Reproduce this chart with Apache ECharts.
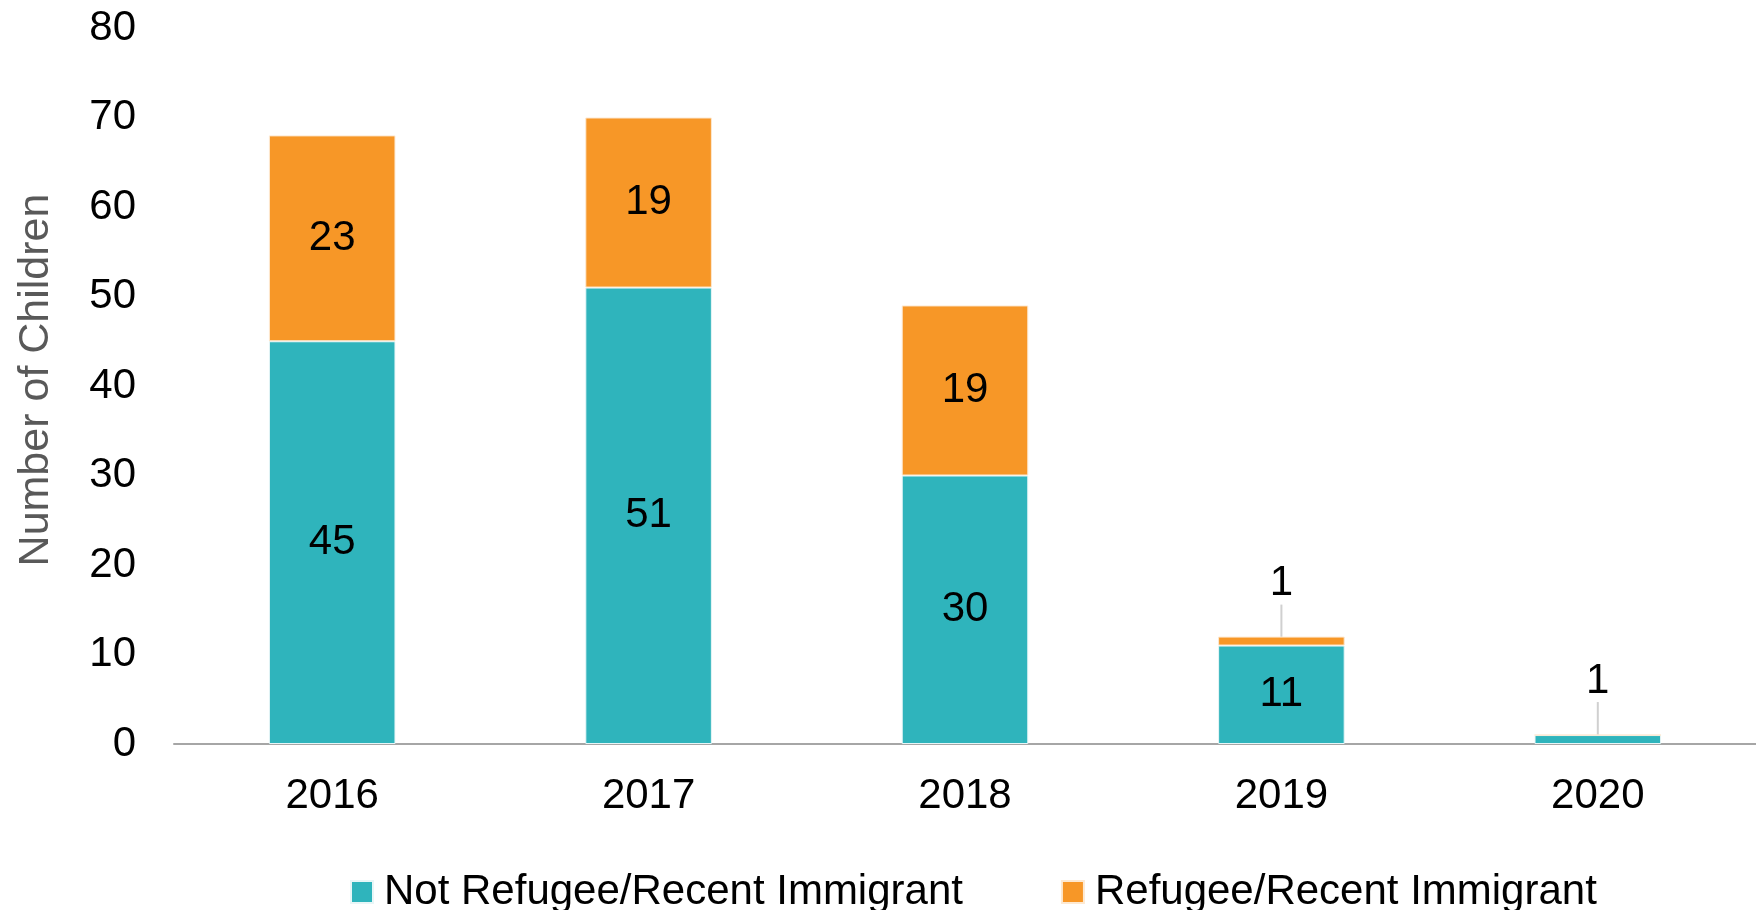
<!DOCTYPE html>
<html>
<head>
<meta charset="utf-8">
<script src="https://cdn.jsdelivr.net/npm/echarts@6/dist/echarts.min.js"></script>
<style>html,body{margin:0;padding:0;background:#fff}#c{width:1756px;height:910px}</style>
</head>
<body>
<div id="c"></div>
<script>
var years = ['2016', '2017', '2018', '2019', '2020'];
var notRefugee = [45, 51, 30, 11, 1];
var refugee = [23, 19, 19, 1, 0];
var yTicks = [0, 80, 10];
var seriesNames = ['Not Refugee/Recent Immigrant', 'Refugee/Recent Immigrant'];

var FONT = '"Liberation Sans", Arial, sans-serif';
var FS = 42;
var chart = echarts.init(document.getElementById('c'));

chart.setOption({
  animation: false,
  textStyle: { fontFamily: FONT },
  grid: { left: 174, right: -5, top: 28, bottom: 166, containLabel: false },
  legend: {
    data: seriesNames,
    left: 345,
    top: 866,
    itemWidth: 22,
    itemHeight: 22,
    itemGap: 98,
    icon: 'rect',
    textStyle: { fontSize: FS, color: '#000', fontFamily: FONT, padding: [0, 0, 0, 6] }
  },
  xAxis: {
    type: 'category',
    data: years,
    axisLine: { lineStyle: { color: '#a6a6a6', width: 2 } },
    axisTick: { show: false },
    axisLabel: { fontSize: FS, color: '#000', margin: 31, fontFamily: FONT }
  },
  yAxis: {
    type: 'value',
    min: yTicks[0], max: yTicks[1], interval: yTicks[2],
    name: 'Number of Children',
    nameLocation: 'middle',
    nameGap: 116,
    nameRotate: 90,
    nameTextStyle: { fontSize: 43, color: '#595959', fontFamily: FONT, padding: [0, 0, 0, 12] },
    axisLine: { show: false },
    axisTick: { show: false },
    splitLine: { show: false },
    axisLabel: { fontSize: FS, color: '#000', margin: 38, fontFamily: FONT }
  },
  series: [
    {
      name: seriesNames[0],
      type: 'bar',
      stack: 'total',
      barWidth: '40%',
      itemStyle: { color: '#2FB4BC', borderColor: '#e8f6f7', borderWidth: 1 },
      data: notRefugee.map(function (v, i) {
        return refugee[i] === 0 && v <= 1
          ? { value: v, label: { position: 'top', distance: 5 } }
          : v;
      }),
      label: { show: true, position: 'inside', fontSize: FS, color: '#000', fontFamily: FONT },
      labelLine: { show: true, lineStyle: { color: '#d0d0d0', width: 2 } },
      labelLayout: function (p) {
        if (notRefugee[p.dataIndex] <= 1 && refugee[p.dataIndex] === 0) return { dy: -28 };
        return {};
      }
    },
    {
      name: seriesNames[1],
      type: 'bar',
      stack: 'total',
      barWidth: '40%',
      itemStyle: { color: '#F79727', borderColor: '#fde9d2', borderWidth: 1 },
      data: refugee.map(function (v) {
        if (v === 0) return { value: v, label: { show: false } };
        if (v <= 1) return { value: v, label: { position: 'top', distance: 5 } };
        return v;
      }),
      label: { show: true, position: 'inside', fontSize: FS, color: '#000', fontFamily: FONT },
      labelLine: { show: true, lineStyle: { color: '#d0d0d0', width: 2 } },
      labelLayout: function (p) {
        if (refugee[p.dataIndex] === 1) return { dy: -27 };
        return {};
      }
    }
  ]
});
</script>
</body>
</html>
